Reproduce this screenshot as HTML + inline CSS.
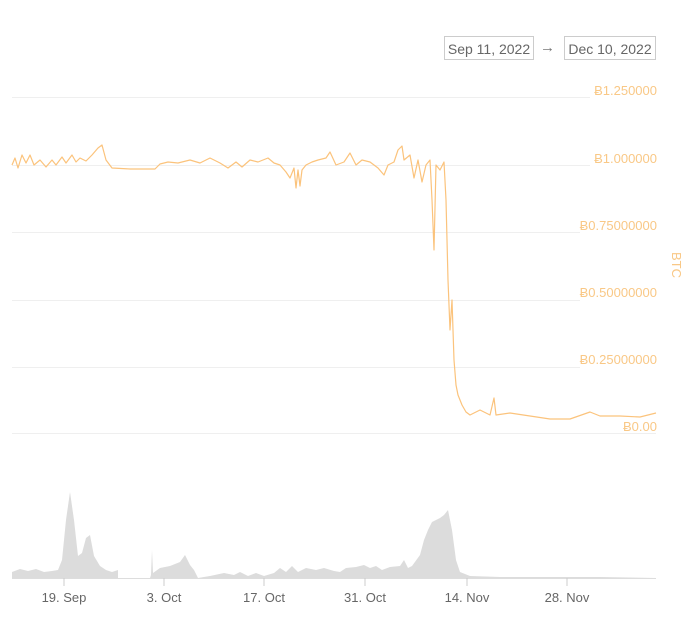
<!DOCTYPE html>
<html><head><meta charset="utf-8"><style>
body{margin:0;background:#fff;width:700px;height:617px;overflow:hidden;font-family:"Liberation Sans",sans-serif}
.box{position:absolute;top:36px;height:24px;border:1px solid #ccc;color:#666;font-size:14px;line-height:24px;padding:0;text-align:center;white-space:nowrap;box-sizing:border-box}
</style></head><body>
<div class="box" style="left:444px;width:90px">Sep 11, 2022</div>
<div style="position:absolute;left:540px;top:36px;line-height:24px;color:#777;font-size:15px">→</div>
<div class="box" style="left:564px;width:92px">Dec 10, 2022</div>
<svg width="700" height="617" style="position:absolute;left:0;top:0">
<g stroke="#efefef" stroke-width="1">
<line x1="12" x2="590" y1="97.5" y2="97.5"/>
<line x1="12" x2="590" y1="165.5" y2="165.5"/>
<line x1="12" x2="580" y1="232.5" y2="232.5"/>
<line x1="12" x2="580" y1="300.5" y2="300.5"/>
<line x1="12" x2="580" y1="367.5" y2="367.5"/>
<line x1="12" x2="656" y1="433.5" y2="433.5"/>
</g>
<g fill="#f9c886" font-size="13" text-anchor="end">
<text x="657" y="95">Ƀ1.250000</text>
<text x="657" y="163">Ƀ1.000000</text>
<text x="657" y="230">Ƀ0.75000000</text>
<text x="657" y="297">Ƀ0.50000000</text>
<text x="657" y="364">Ƀ0.25000000</text>
<text x="657" y="431">Ƀ0.00</text>
</g>
<text x="672" y="265" fill="#f9c886" font-size="13" text-anchor="middle" transform="rotate(90 672 265)">BTC</text>
<polyline fill="none" stroke="#fbc37c" stroke-width="1.2" stroke-linejoin="round" points="12,165 15,158 18,168 22,155 26,163 30,155 34,165 40,160 46,167 52,160 56,165 62,157 66,163 72,155 76,162 80,158 86,161 92,155 98,148 102,145 106,160 112,168 130,169 155,169 160,164 168,162 178,163 190,160 200,163 210,158 220,163 228,168 236,162 242,167 250,160 258,162 268,158 274,163 280,165 286,172 290,178 294,168 296,188 298,170 300,186 302,170 306,165 312,162 318,160 326,158 330,152 336,165 344,162 350,153 356,165 362,160 370,162 378,168 384,175 388,165 394,162 398,150 402,146 404,160 410,155 414,178 418,160 422,182 426,165 430,160 432,200 434,250 436,165 440,170 444,162 446,200 448,280 450,330 452,300 454,360 456,385 458,395 462,405 466,412 470,415 480,410 490,415 494,398 496,415 510,413 530,416 550,419 570,419 590,412 600,416 620,416 640,417 656,413"/>
<polygon fill="#dcdcdc" points="12,578 12,572 20,569 28,571 36,569 44,572 52,571 58,570 62,560 66,520 70,492 74,520 78,556 82,553 86,538 90,535 94,556 100,566 106,570 112,572 118,570 118,578 150,578 151,575 152,550 153,573 160,568 170,566 180,562 185,555 190,565 194,570 198,578 210,576 224,573 234,575 240,572 248,576 256,573 264,576 274,573 280,568 286,572 292,566 298,572 306,568 316,570 324,568 334,571 340,572 346,568 356,567 364,565 370,568 376,566 382,570 390,567 400,566 404,560 408,568 412,566 420,555 424,540 428,530 432,522 436,520 440,518 444,515 448,510 452,530 456,560 460,572 470,576 500,577 600,577 656,578"/>
<line x1="12" x2="656" y1="578.5" y2="578.5" stroke="#ddd"/>
<g stroke="#ccc"><line x1="64" x2="64" y1="578" y2="586"/><line x1="164" x2="164" y1="578" y2="586"/><line x1="264" x2="264" y1="578" y2="586"/><line x1="365" x2="365" y1="578" y2="586"/><line x1="467" x2="467" y1="578" y2="586"/><line x1="567" x2="567" y1="578" y2="586"/></g>
<g fill="#666" font-size="13" text-anchor="middle">
<text x="64" y="602">19. Sep</text><text x="164" y="602">3. Oct</text><text x="264" y="602">17. Oct</text><text x="365" y="602">31. Oct</text><text x="467" y="602">14. Nov</text><text x="567" y="602">28. Nov</text>
</g>
</svg>
</body></html>
